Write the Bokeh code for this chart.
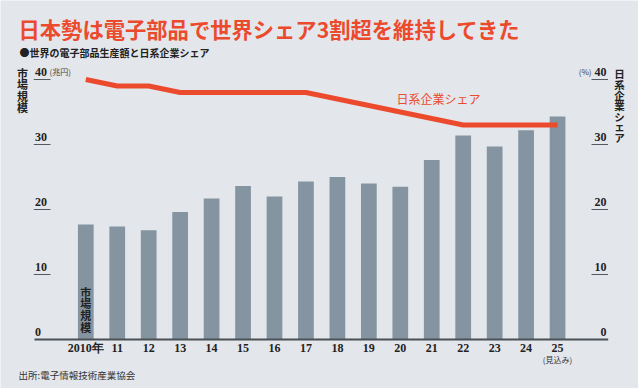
from bokeh.plotting import figure
from bokeh.models import Range1d
from bokeh.core.properties import value
from bokeh.embed import file_html
from bokeh.resources import INLINE

# ---- data ----
years = ["2010年", "11", "12", "13", "14", "15", "16", "17", "18", "19", "20",
         "21", "22", "23", "24", "25"]
market = [17.7, 17.4, 16.8, 19.6, 21.7, 23.6, 22.0, 24.3, 25.0, 24.0, 23.5,
          27.6, 31.4, 29.7, 32.2, 34.3]          # 兆円
share = [40, 39, 39, 38, 38, 38, 38, 38, 37, 36, 35, 34, 33, 33, 33, 33]  # %
y_ticks = [0, 10, 20, 30, 40]
y_tick_labels = ["0", "10", "20", "30", "40"]

title_text = "日本勢は電子部品で世界シェア3割超を維持してきた"
subtitle_text = "●世界の電子部品生産額と日系企業シェア"
source_text = "出所:電子情報技術産業協会"
left_title = "市場規模"
right_title = "日系企業シェア"
line_label = "日系企業シェア"
bar_label = "市場規模"

# ---- layout helpers (page pixel -> data) ----
BG = "#e3e6eb"
BAR = "#8494a1"
RED = "#ec4a2d"
DARK = "#222222"
JP = value("Noto Sans CJK JP")
NUM = value("Liberation Sans Narrow")

W, H = 638, 388
S = 31.45   # px per category
PY = 6.5    # px per unit
X0, Y0 = 85.3, 339.0


def dx(X):
    return (X - X0) / S


def dy(Y):
    return (Y0 - Y) / PY


idx = list(range(len(years)))

p = figure(width=W, height=H, output_backend="svg", toolbar_location=None,
           x_range=Range1d(dx(0), dx(W)), y_range=Range1d(dy(H), dy(0)),
           min_border=0, x_axis_location=None, y_axis_location=None,
           background_fill_color=BG, border_fill_color=BG,
           outline_line_color=None)
p.grid.grid_line_color = None

# bars
p.vbar(x=idx, top=market, bottom=0, width=0.5, fill_color=BAR, line_color=None)

# share line
p.line(x=idx, y=share, line_width=5, line_color=RED, line_cap="butt",
       line_join="round")

# baseline
p.segment(x0=[dx(34)], x1=[dx(607.7)], y0=[0], y1=[0], line_color="#4b5057",
          line_width=2)

# tick underlines
tv = y_ticks[1:]
p.segment(x0=[dx(33.3)] * len(tv), x1=[dx(50)] * len(tv), y0=tv, y1=tv,
          line_color="#555a60", line_width=1)
p.segment(x0=[dx(591)] * len(tv), x1=[dx(607.5)] * len(tv), y0=tv, y1=tv,
          line_color="#555a60", line_width=1)

# tick labels
off = 8 / PY
ly = [v + off for v in y_ticks]
p.text(x=[dx(34.5)] * len(y_ticks), y=ly, text=y_tick_labels, text_font=NUM,
       text_font_size="12px", text_font_style="bold", text_color=DARK,
       text_align="left", text_baseline="middle")
p.text(x=[dx(606)] * len(y_ticks), y=ly, text=y_tick_labels, text_font=NUM,
       text_font_size="12px", text_font_style="bold", text_color=DARK,
       text_align="right", text_baseline="middle")
p.text(x=[dx(49)], y=[y_ticks[-1] + off], text=["(兆円)"], text_font=JP,
       text_font_size="8px", text_color="#444", text_align="left",
       text_baseline="middle")
p.text(x=[dx(591)], y=[y_ticks[-1] + off], text=["(%)"], text_font=JP,
       text_font_size="8px", text_color="#444", text_align="right",
       text_baseline="middle")

# x labels
p.text(x=idx, y=[dy(347.7)] * len(idx), text=years, text_font=NUM,
       text_font_size="12px", text_font_style="bold", text_color=DARK,
       text_align="center", text_baseline="middle")
p.text(x=[idx[-1]], y=[dy(359)], text=["(見込み)"], text_font=JP,
       text_font_size="8px", text_color="#333", text_align="center",
       text_baseline="middle")

# title / subtitle / source
p.text(x=[dx(18)], y=[dy(27.5)], text=[title_text], text_font=JP,
       text_font_size="21.3px", text_font_style="bold", text_color=RED,
       text_align="left", text_baseline="middle")
p.text(x=[dx(19)], y=[dy(52.3)], text=[subtitle_text], text_font=JP,
       text_font_size="10px", text_font_style="bold", text_color=DARK,
       text_align="left", text_baseline="middle")
p.text(x=[dx(18)], y=[dy(374)], text=[source_text], text_font=JP,
       text_font_size="9.5px", text_color="#333", text_align="left",
       text_baseline="middle")

# vertical axis titles
lc = list(left_title)
p.text(x=[dx(22)] * len(lc), y=[dy(72 + 11.6 * k) for k in range(len(lc))],
       text=lc, text_font=JP, text_font_size="11px", text_font_style="bold",
       text_color=DARK, text_align="center", text_baseline="middle")
rc = list(right_title)
p.text(x=[dx(619)] * len(rc), y=[dy(73.3 + 10.6 * k) for k in range(len(rc))],
       text=rc, text_font=JP, text_font_size="10.5px", text_font_style="bold",
       text_color=DARK, text_align="center", text_baseline="middle")

# label inside first bar
bc = list(bar_label)
p.text(x=[idx[0]] * len(bc), y=[dy(291 + 11.7 * k) for k in range(len(bc))],
       text=bc, text_font=JP, text_font_size="11px", text_font_style="bold",
       text_color=DARK, text_align="center", text_baseline="middle")

# line label
p.text(x=[dx(438)], y=[dy(97.7)], text=[line_label], text_font=JP,
       text_font_size="12px", text_color=RED, text_align="center",
       text_baseline="middle")

open("out.html", "w").write(file_html(p, INLINE))
